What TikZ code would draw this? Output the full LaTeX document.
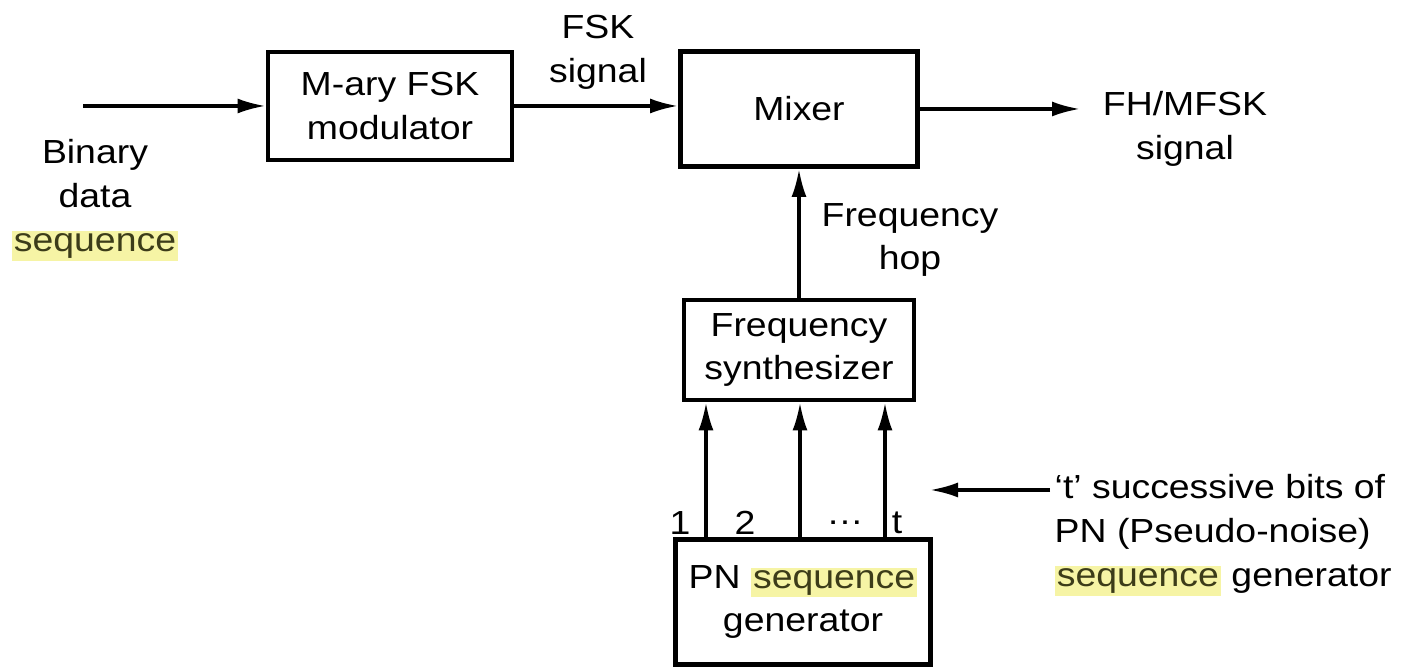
\documentclass[tikz,border=0pt]{standalone}
\usepackage{fontspec}
\setmainfont{Liberation Sans}[FakeStretch=1.12]
\usepackage{xcolor}
\usetikzlibrary{arrows.meta, positioning, calc}
\definecolor{SeqYellow}{RGB}{246, 244, 165}
\definecolor{SeqText}{RGB}{60, 60, 25}
\newcommand{\seqhl}[1]{{\setlength{\fboxsep}{0.6pt}\colorbox{SeqYellow}{\textcolor{SeqText}{#1}}}}

\begin{document}
\begin{tikzpicture}[x=1mm,y=1mm,
  blk/.style={draw, line width=1.4pt, align=center, inner sep=0pt},
  sig/.style={line width=0.9pt, -{Latex[length=2.8mm,width=1.5mm]}},
  lbl/.style={align=center, inner sep=0pt}]
  \path[use as bounding box] (0,0) rectangle (141.4,67.1);
  \fontsize{9.5}{12.5}\selectfont

  % blocks
  \node[blk, minimum width=24.4mm, minimum height=10.8mm] (mod) at (39.0,56.5) {M-ary FSK\\modulator};
  \node[blk, minimum width=23.7mm, minimum height=11.5mm] (mixer) at (79.9,56.2) {Mixer};
  \node[blk, minimum width=23.0mm, minimum height=10.0mm] (synth) at (79.9,32.1) {Frequency\\synthesizer};
  \node[blk, minimum width=25.5mm, minimum height=12.5mm] (pn) at (80.3,6.9) {PN \seqhl{sequence}\\generator};

  % free ends
  \coordinate (in) at (8.3,56.5);
  \coordinate (out) at (108.0,56.2);
  \coordinate (bitsfrom) at (105.0,18.1);
  \coordinate (bitsto) at (93.0,18.1);

  % signal path
  \draw[sig] (in) -- (mod.west);
  \draw[sig] (mod.east) -- (mod.east -| mixer.west);
  \draw[sig] (mixer.east) -- (out);
  \draw[sig] (synth.north) -- (mixer.south);
  \foreach \x in {70.6,80.0,88.5}{
    \draw[sig] (pn.north -| \x,0) -- (synth.south -| \x,0);
  }
  \draw[sig] (bitsfrom) -- (bitsto);

  % labels
  \node[lbl] (bin) at (9.5,47.1) {Binary\\data\\\seqhl{sequence}};
  \node[lbl] (fsk) at (59.8,61.9) {FSK\\signal};
  \node[lbl] (fhout) at (118.5,54.2) {FH/MFSK\\signal};
  \node[lbl] (hop) at (91.0,43.1) {Frequency\\hop};
  \node[lbl] (b1) at (68.0,14.8) {1};
  \node[lbl] (b2) at (74.5,14.8) {2};
  \node[lbl] (bd) at (84.5,14.8) {\dots};
  \node[lbl] (bt) at (89.7,14.8) {t};
  \node[lbl, align=left, anchor=west] (bits) at (105.4,13.6)
    {‘t’ successive bits of\\PN (Pseudo-noise)\\\seqhl{sequence} generator};
\end{tikzpicture}
\end{document}
